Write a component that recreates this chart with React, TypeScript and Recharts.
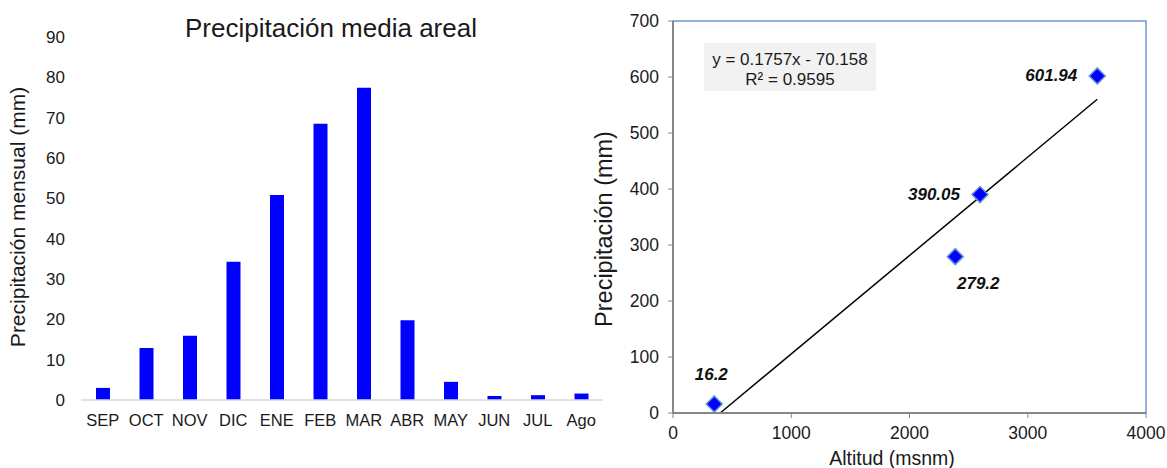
import {
  Bar,
  BarChart,
  ReferenceArea,
  ReferenceLine,
  Scatter,
  ScatterChart,
  XAxis,
  YAxis,
} from "recharts";

// Precipitación media areal por mes (mm)
const meses = ["SEP", "OCT", "NOV", "DIC", "ENE", "FEB", "MAR", "ABR", "MAY", "JUN", "JUL", "Ago"];
const precipMensual = [3.0, 12.9, 15.9, 34.3, 50.8, 68.5, 77.4, 19.8, 4.5, 1.0, 1.2, 1.6];
const ticksMensual = [0, 10, 20, 30, 40, 50, 60, 70, 80, 90];

// Estaciones: altitud (msnm) vs precipitación (mm)
const altitudes = [349, 2596, 2387, 3588];
const precipEstacion = [16.2, 390.05, 279.2, 601.94];
const ticksAltitud = [0, 1000, 2000, 3000, 4000];
const ticksPrecip = [0, 100, 200, 300, 400, 500, 600, 700];

// Ajuste lineal
const pendiente = 0.1757;
const intercepto = -70.158;
const r2 = 0.9595;

const FONT = "'Liberation Sans', Arial, Helvetica, sans-serif";
const TEXTO = "#1a1a1a";
const EJE = "#868686";

const barData = meses.map((mes, i) => ({ mes, pp: precipMensual[i] }));
const scatterData = altitudes.map((alt, i) => ({ alt, pp: precipEstacion[i] }));

// recta de tendencia desde donde cruza 0 hasta la estación más alta
const xIni = Math.max(Math.min(...altitudes), -intercepto / pendiente);
const xFin = Math.max(...altitudes);
const tendencia = [
  { x: xIni, y: pendiente * xIni + intercepto },
  { x: xFin, y: pendiente * xFin + intercepto },
];

// dónde va cada etiqueta respecto a su punto
const colocacion = [
  { dx: -3, dy: -29, anchor: "middle" },
  { dx: -20, dy: 0, anchor: "end" },
  { dx: 23, dy: 27, anchor: "middle" },
  { dx: -20, dy: 0, anchor: "end" },
];

function Rombo(props: any) {
  const { cx, cy, payload } = props;
  const i = altitudes.indexOf(payload.alt);
  const c = colocacion[i] ?? colocacion[0];
  const r = 8;
  return (
    <g>
      <polygon
        points={`${cx},${cy - r} ${cx + r},${cy} ${cx},${cy + r} ${cx - r},${cy}`}
        fill="#0000ff"
        stroke="#6592d4"
        strokeWidth={1.5}
      />
      <text
        x={cx + c.dx}
        y={cy + c.dy}
        textAnchor={c.anchor as any}
        dominantBaseline="central"
        fontSize={17}
        fontWeight="bold"
        fontStyle="italic"
        fill="#111"
      >
        {String(precipEstacion[i])}
      </text>
    </g>
  );
}

export default function App() {
  return (
    <div
      style={{
        position: "absolute",
        left: 0,
        top: 0,
        width: 1167,
        height: 468,
        background: "#fff",
        fontFamily: FONT,
        overflow: "hidden",
      }}
    >
      <div style={{ position: "absolute", left: 0, top: 0 }}>
        <BarChart
          width={620}
          height={468}
          data={barData}
          margin={{ top: 37, right: 17, bottom: 38, left: 0 }}
        >
          <XAxis
            dataKey="mes"
            height={30}
            axisLine={{ stroke: "#d9d9d9", strokeWidth: 1.5 }}
            tickLine={false}
            tickSize={0}
            tickMargin={14}
            interval={0}
            tick={{ fill: TEXTO, fontSize: 16.5 }}
          />
          <YAxis
            width={81}
            domain={[0, 90]}
            ticks={ticksMensual}
            axisLine={false}
            tickLine={false}
            tickSize={0}
            tickMargin={16}
            tick={{ fill: TEXTO, fontSize: 17 }}
          />
          <Bar dataKey="pp" fill="#0000ff" barSize={14} isAnimationActive={false} />
        </BarChart>
      </div>

      <div style={{ position: "absolute", left: 600, top: 0 }}>
        <ScatterChart
          width={567}
          height={468}
          margin={{ top: 21, right: 21, bottom: 25, left: 0 }}
        >
          <ReferenceArea
            x1={0}
            x2={4000}
            y1={0}
            y2={700}
            fill="none"
            stroke="#7099d0"
            strokeWidth={1.5}
          />
          <XAxis
            type="number"
            dataKey="alt"
            domain={[0, 4000]}
            ticks={ticksAltitud}
            height={30}
            axisLine={{ stroke: EJE, strokeWidth: 2 }}
            tickLine={{ stroke: EJE }}
            tickSize={5}
            tickMargin={9}
            tick={{ fill: TEXTO, fontSize: 17.5 }}
          />
          <YAxis
            type="number"
            dataKey="pp"
            domain={[0, 700]}
            ticks={ticksPrecip}
            width={73}
            axisLine={{ stroke: EJE, strokeWidth: 2 }}
            tickLine={{ stroke: EJE }}
            tickSize={5}
            tickMargin={9}
            tick={{ fill: TEXTO, fontSize: 17.5 }}
          />
          <ReferenceLine segment={tendencia} stroke="#000" strokeWidth={1.5} ifOverflow="visible" />
          <Scatter data={scatterData} shape={Rombo} isAnimationActive={false} />
        </ScatterChart>
      </div>

      <svg
        width={1167}
        height={468}
        style={{ position: "absolute", left: 0, top: 0, pointerEvents: "none" }}
        fontFamily={FONT}
        fill={TEXTO}
      >
        <text x={331} y={37} textAnchor="middle" fontSize={26}>
          Precipitación media areal
        </text>
        <text transform="translate(25,217) rotate(-90)" textAnchor="middle" fontSize={21}>
          Precipitación mensual (mm)
        </text>
        <text transform="translate(612,229) rotate(-90)" textAnchor="middle" fontSize={23.5}>
          Precipitación (mm)
        </text>
        <text x={892} y={465} textAnchor="middle" fontSize={19.5}>
          Altitud (msnm)
        </text>
        <rect x={704} y={43} width={172} height={48} fill="#f2f2f2" />
        <text x={790} y={65} textAnchor="middle" fontSize={17}>
          {`y = ${pendiente}x - ${Math.abs(intercepto)}`}
        </text>
        <text x={790} y={85} textAnchor="middle" fontSize={17}>
          {`R² = ${r2}`}
        </text>
      </svg>
    </div>
  );
}
